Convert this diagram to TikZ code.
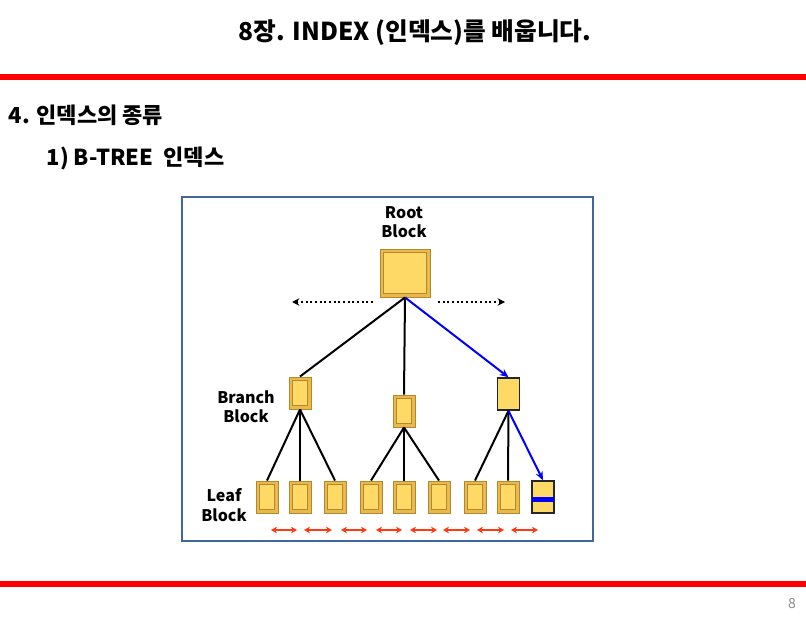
\documentclass[tikz,border=0pt]{standalone}
\usepackage{fontspec}
\setmainfont{Noto Sans CJK KR}
\usetikzlibrary{arrows.meta}
\definecolor{slidered}{HTML}{FF0000}
\definecolor{framecol}{HTML}{41689A}
\definecolor{blockfill}{HTML}{FFD966}
\definecolor{blockring}{HTML}{E9B850}
\definecolor{blockedge}{HTML}{B48A28}
\definecolor{linkred}{HTML}{FF3A12}
\tikzset{
  block/.style={rectangle, fill=blockring, draw=blockedge, line width=0.7pt, inner sep=0pt,
    minimum width=16.5pt, minimum height=24pt,
    path picture={\filldraw[fill=blockfill, draw=blockedge, line width=0.5pt]
      ([shift={(2.6pt,2.6pt)}]path picture bounding box.south west) rectangle
      ([shift={(-2.6pt,-2.6pt)}]path picture bounding box.north east);}},
  picked/.style={rectangle, fill=blockfill, draw=black!85, line width=1.1pt, inner sep=0pt,
    minimum width=16.5pt, minimum height=24pt},
  tag/.style={font=\fontsize{12}{14.5}\selectfont\bfseries, align=center},
  edge/.style={line width=1.5pt},
  bluepath/.style={blue, line width=1.5pt, -{Stealth[length=6.5pt,width=5.5pt]}},
  linkarrow/.style={linkred, line width=1.5pt, {Stealth[length=4.5pt,width=5pt]}-{Stealth[length=4.5pt,width=5pt]}}
}
\begin{document}
\begin{tikzpicture}[x=0.75pt,y=-0.75pt]
\useasboundingbox (0,0) rectangle (806,620);

\node[font=\fontsize{18.5}{21}\selectfont\bfseries] (title) at (415,33) {8장. INDEX (인덱스)를 배웁니다.};
\draw[slidered, line width=4.5pt] (0,77) -- (806,77);
\node[anchor=west, font=\fontsize{16.5}{20}\selectfont\bfseries] (sec) at (4,115) {4. 인덱스의 종류};
\node[anchor=west, font=\fontsize{16.5}{20}\selectfont\bfseries] (subsec) at (42,158) {1) B-TREE\ \ 인덱스};

\draw[framecol, line width=1.2pt] (182,197) rectangle (593,541);

\node[tag] (rootlabel) at (404,222) {Root\\Block};
\node[block, minimum width=37.5pt, minimum height=36pt] (root) at (405,273) {};

\coordinate (lefttail) at (373,302);
\coordinate (lefthead) at (292,302);
\coordinate (righttail) at (438,302);
\coordinate (righthead) at (505,302);
\draw[dotted, line width=1.5pt, -{Stealth[length=5.5pt,width=5.5pt]}] (lefttail) -- (lefthead);
\draw[dotted, line width=1.5pt, -{Stealth[length=5.5pt,width=5.5pt]}] (righttail) -- (righthead);

\node[tag] (branchlabel) at (246,407) {Branch\\Block};
\node[block] (b1) at (300,393) {};
\node[block] (b2) at (404,411) {};
\node[picked] (b3) at (508.5,394) {};

\node[tag] (leaflabel) at (224,505) {Leaf\\Block};
\foreach \i/\x in {1/267,2/300,3/335,4/371,5/404,6/439,7/475,8/508}
  \node[block] (l\i) at (\x,497) {};
\node[picked] (l9) at (543,497) {};
\fill[blue] ([xshift=0.6pt,yshift=-3.4pt]l9.west) rectangle ([xshift=-0.6pt,yshift=0.2pt]l9.east);

\draw[edge] (root.south) -- (b1.north);
\draw[edge] (root.south) -- (b2.north);
\draw[bluepath] (root.south) -- (b3.north);

\draw[edge] (b1.south) -- (l1.north);
\draw[edge] (b1.south) -- (l2.north);
\draw[edge] (b1.south) -- (l3.north);
\draw[edge] (b2.south) -- (l4.north);
\draw[edge] (b2.south) -- (l5.north);
\draw[edge] (b2.south) -- (l6.north);
\draw[edge] (b3.south) -- (l7.north);
\draw[edge] (b3.south) -- (l8.north);
\draw[bluepath] (b3.south) -- (l9.north);

\foreach \a/\b in {271/297,304/332,341/367,376/402,410/437,443/470,477/504,511/538}
  \draw[linkarrow] (\a,530) -- (\b,530);

\draw[slidered, line width=4.5pt] (0,584) -- (806,584);
\node[text=black!45, font=\fontsize{10.5}{12}\selectfont] (pagenum) at (792,604) {8};
\end{tikzpicture}
\end{document}
